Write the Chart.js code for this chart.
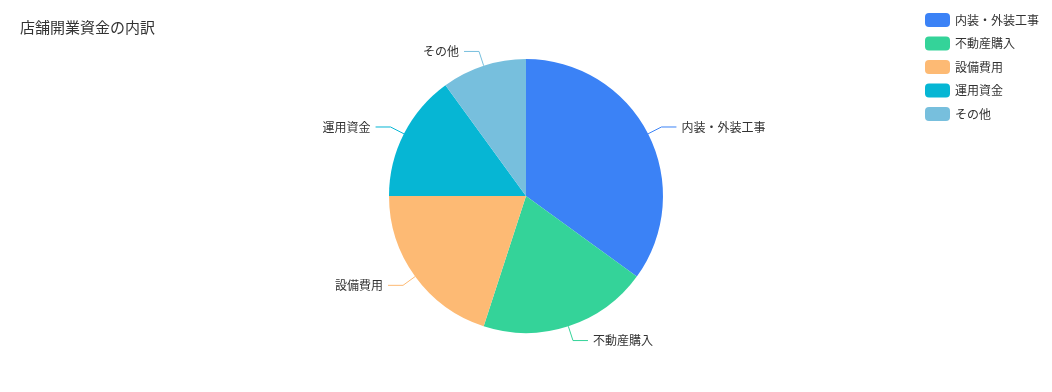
<!DOCTYPE html>
<html>
<head>
<meta charset="utf-8">
<script src="https://cdn.jsdelivr.net/npm/chart.js@4.4.1/dist/chart.umd.min.js"></script>
<style>
  html, body { margin: 0; padding: 0; background: #fff; }
  #wrap { width: 1052px; height: 392px; position: relative; }
</style>
</head>
<body>
<div id="wrap"><canvas id="chart"></canvas></div>
<script>
// data
const categories = ['内装・外装工事', '不動産購入', '設備費用', '運用資金', 'その他'];
const amounts = [35, 20, 20, 15, 10];
const colors = ['#3b82f6', '#34d399', '#fdba74', '#06b6d4', '#77bfdd'];
const chartTitle = '店舗開業資金の内訳';

const FONT = '"Noto Sans CJK JP", "Noto Sans", sans-serif';

// title, legend and outside labels with leader lines
const decorPlugin = {
  id: 'decor',
  afterDraw(chart) {
    const ctx = chart.ctx;
    ctx.save();

    // title
    ctx.fillStyle = '#333';
    ctx.font = '15px ' + FONT;
    ctx.textBaseline = 'middle';
    ctx.textAlign = 'left';
    ctx.fillText(chartTitle, 20, 27);

    // legend
    ctx.font = '12px ' + FONT;
    categories.forEach((name, i) => {
      const cy = 20 + i * 23.5;
      ctx.fillStyle = colors[i];
      ctx.beginPath();
      ctx.roundRect(925, cy - 7, 25, 14, 4);
      ctx.fill();
      ctx.fillStyle = '#333';
      ctx.fillText(name, 955, cy);
    });

    // slice labels
    const meta = chart.getDatasetMeta(0);
    meta.data.forEach((arc, i) => {
      const p = arc.getProps(['x', 'y', 'startAngle', 'endAngle', 'outerRadius'], true);
      const mid = (p.startAngle + p.endAngle) / 2;
      const r = p.outerRadius;
      const x0 = p.x + Math.cos(mid) * r;
      const y0 = p.y + Math.sin(mid) * r;
      const x1 = p.x + Math.cos(mid) * (r + 15);
      const y1 = p.y + Math.sin(mid) * (r + 15);
      const right = Math.cos(mid) >= 0;
      const x2 = x1 + (right ? 15 : -15);
      ctx.strokeStyle = colors[i];
      ctx.lineWidth = 1;
      ctx.beginPath();
      ctx.moveTo(x0, y0);
      ctx.lineTo(x1, y1);
      ctx.lineTo(x2, y1);
      ctx.stroke();
      ctx.fillStyle = '#333';
      ctx.textAlign = right ? 'left' : 'right';
      ctx.fillText(categories[i], x2 + (right ? 5 : -5), y1);
    });

    ctx.restore();
  }
};

new Chart(document.getElementById('chart'), {
  type: 'pie',
  data: {
    labels: categories,
    datasets: [{
      data: amounts,
      backgroundColor: colors,
      borderWidth: 0,
      hoverOffset: 0
    }]
  },
  options: {
    responsive: true,
    maintainAspectRatio: false,
    animation: false,
    layout: { padding: { left: 389, right: 389, top: 59, bottom: 59 } },
    plugins: {
      legend: { display: false },
      title: { display: false },
      tooltip: { enabled: false }
    }
  },
  plugins: [decorPlugin]
});
</script>
</body>
</html>
